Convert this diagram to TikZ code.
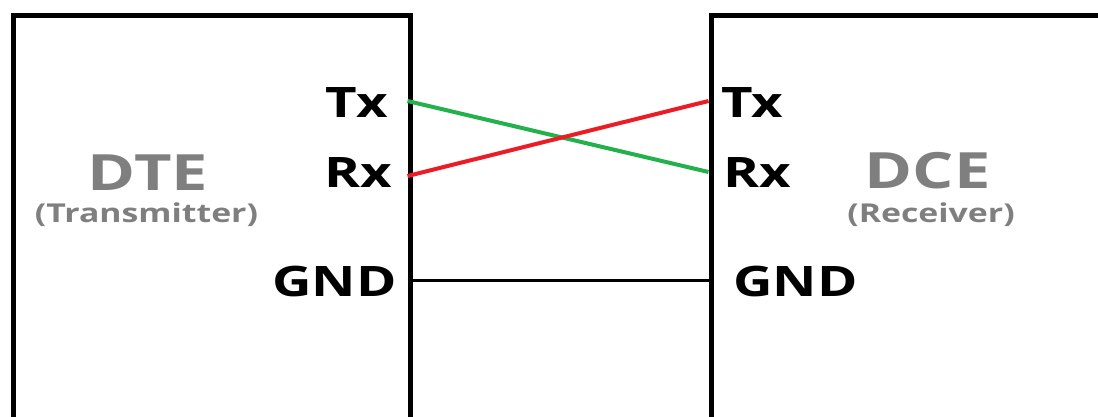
\documentclass[tikz,border=0pt]{standalone}
\usepackage{fontspec}
\setmainfont{Open Sans}
\newfontfamily\widefont[FakeStretch=1.3]{Open Sans}
\usetikzlibrary{positioning,calc}
\definecolor{wiregreen}{RGB}{34,177,76}
\definecolor{wirered}{RGB}{237,28,36}
\definecolor{unitgray}{RGB}{127,127,127}

\begin{document}
\begin{tikzpicture}[x=1pt, y=-1pt, semithick]

    \tikzstyle{unit} = [rectangle, draw=black, line width=5pt, inner sep=0pt, anchor=north west]
    \tikzstyle{pinlabel} = [font=\widefont\bfseries\fontsize{42}{50}\selectfont, inner sep=0pt]
    \tikzstyle{unitname} = [font=\widefont\bfseries\fontsize{50}{60}\selectfont, text=unitgray, inner sep=0pt, anchor=base]
    \tikzstyle{unitrole} = [font=\widefont\bfseries\fontsize{26}{31}\selectfont, text=unitgray, inner sep=0pt, anchor=base]
    \tikzstyle{wire} = [line width=4pt]

    \useasboundingbox (0,0) rectangle (1098,416);

    \node (dte)      [unit, minimum width=397pt, minimum height=420pt]  at (10.5,12.5)  {};
    \node (dce)      [unit, minimum width=420pt, minimum height=420pt]  at (708.5,12.5) {};

    \node (dtename)  [unitname]  at (148,190)   {DTE};
    \node (dterole)  [unitrole]  at (146.5,222) {(Transmitter)};
    \node (dcename)  [unitname]  at (927.5,188) {DCE};
    \node (dcerole)  [unitrole]  at (931,222)   {(Receiver)};

    \node (dtetxlabel)   [pinlabel, anchor=base east]  at (388,117)  {Tx};
    \node (dterxlabel)   [pinlabel, anchor=base east]  at (392,187)  {Rx};
    \node (dtegndlabel)  [pinlabel, anchor=base east]  at (397,296)  {GND};
    \node (dcetxlabel)   [pinlabel, anchor=base west]  at (721,117)  {Tx};
    \node (dcerxlabel)   [pinlabel, anchor=base west]  at (723,187)  {Rx};
    \node (dcegndlabel)  [pinlabel, anchor=base west]  at (733,296)  {GND};

    \coordinate (dtetx)   at (407.5,101);
    \coordinate (dterx)   at (407.5,176);
    \coordinate (dtegnd)  at (407.5,280);
    \coordinate (dcetx)   at (708.5,101);
    \coordinate (dcerx)   at (708.5,172);
    \coordinate (dcegnd)  at (708.5,280);

    \draw[wire, wiregreen]         (dtetx)   --  (dcerx);
    \draw[wire, wirered]           (dterx)   --  (dcetx);
    \draw[wire, line width=3pt]    (dtegnd)  --  (dcegnd);
\end{tikzpicture}
\end{document}
